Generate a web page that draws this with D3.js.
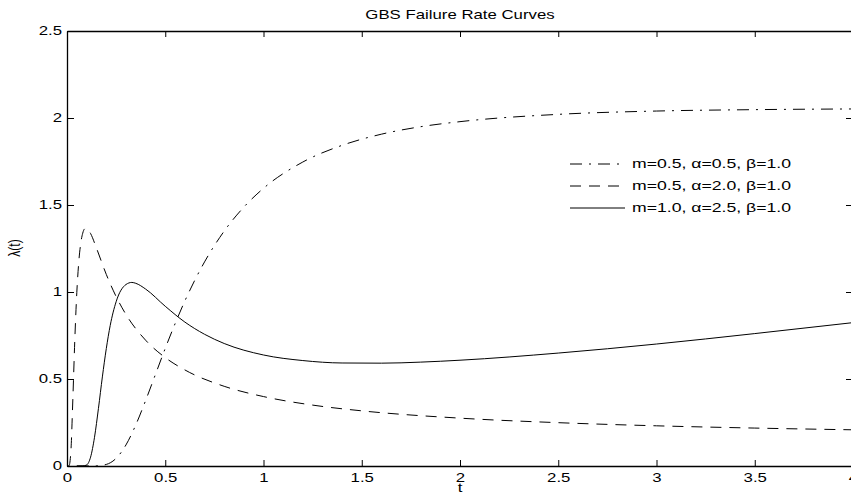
<!DOCTYPE html>
<html>
<head>
<meta charset="utf-8">
<script src="https://cdn.jsdelivr.net/npm/d3@7"></script>
<style>
    body { margin: 0; background: #fff; }
    text { font-family: "Liberation Sans", Arial, sans-serif; }
</style>
</head>
<body>
<div id="canvas"></div>
<script>
"use strict"

/* values */
let xTicks = [0, 0.5, 1, 1.5, 2, 2.5, 3, 3.5, 4];
let yTicks = [0, 0.5, 1, 1.5, 2, 2.5];

let legendLabels = [
    "m=0.5, \u03b1=0.5, \u03b2=1.0",
    "m=0.5, \u03b1=2.0, \u03b2=1.0",
    "m=1.0, \u03b1=2.5, \u03b2=1.0"
];

/* m=0.5, alpha=0.5 (dash-dot) */
let t1 = [0.05, 0.15, 0.2, 0.25, 0.3, 0.35, 0.4, 0.45, 0.5, 0.6, 0.7, 0.8, 0.9, 1.0,
    1.2, 1.4, 1.6, 1.8, 2.0, 2.5, 3.0, 3.5, 4.0];
let lambda1 = [0, 0.001, 0.009, 0.044, 0.121, 0.236, 0.376, 0.526, 0.676, 0.949, 1.173, 1.350, 1.488, 1.596,
    1.747, 1.843, 1.907, 1.950, 1.979, 2.021, 2.040, 2.048, 2.052];

/* m=0.5, alpha=2.0 (dashed) */
let t2 = [0.005, 0.01, 0.02, 0.03, 0.04, 0.05, 0.06, 0.07, 0.08, 0.09, 0.1, 0.12, 0.15, 0.2, 0.25, 0.3,
    0.4, 0.5, 0.6, 0.8, 1.0, 1.25, 1.5, 2.0, 2.5, 3.0, 3.5, 4.0];
let lambda2 = [0, 0.0005, 0.089, 0.393, 0.734, 0.998, 1.174, 1.280, 1.338, 1.363, 1.366, 1.336, 1.252, 1.101, 0.974, 0.871,
    0.723, 0.623, 0.552, 0.458, 0.399, 0.350, 0.317, 0.275, 0.249, 0.231, 0.218, 0.208];

/* m=1.0, alpha=2.5 (solid) */
let t3 = [0.05, 0.08, 0.1, 0.12, 0.14, 0.16, 0.18, 0.2, 0.22, 0.25, 0.3, 0.33, 0.35, 0.4, 0.5, 0.6, 0.7, 0.8,
    1.0, 1.2, 1.4, 1.6, 1.8, 2.0, 2.5, 3.0, 3.5, 4.0];
let lambda3 = [0, 0.0001, 0.006, 0.051, 0.165, 0.331, 0.512, 0.675, 0.808, 0.944, 1.043, 1.055, 1.050, 1.017, 0.918, 0.827, 0.757, 0.704,
    0.638, 0.606, 0.592, 0.591, 0.597, 0.608, 0.649, 0.701, 0.761, 0.824];

let dashes = ["12,7,2,7", "11,8", null];
let stretch = 1.4; // text in the picture is wider than it is tall

/* canvas */
let drawing = d3.select("#canvas")
    .append("svg")
    .attr("width", 851)
    .attr("height", 497);

let plotLeft = 67, plotRight = 853, plotTop = 31, plotBottom = 466;

let x = d3.scaleLinear().domain([0, 4]).range([plotLeft, plotRight]);
let y = d3.scaleLinear().domain([0, 2.5]).range([plotBottom, plotTop]);

/* axes, ticks pointing inwards like matlab */
let fmt = d => String(d);

let xAxis = drawing.append("g")
    .attr("transform", "translate(0," + plotBottom + ")")
    .call(d3.axisBottom(x).tickValues(xTicks).tickFormat(fmt).tickSizeInner(-6).tickSizeOuter(0).tickPadding(7));

let xAxisTop = drawing.append("g")
    .attr("transform", "translate(0," + plotTop + ")")
    .call(d3.axisTop(x).tickValues(xTicks).tickFormat("").tickSizeInner(-6).tickSizeOuter(0));

let yAxis = drawing.append("g")
    .attr("transform", "translate(" + plotLeft + ",0)")
    .call(d3.axisLeft(y).tickValues(yTicks).tickFormat(fmt).tickSizeInner(-7).tickSizeOuter(0).tickPadding(4));

let yAxisRight = drawing.append("g")
    .attr("transform", "translate(" + plotRight + ",0)")
    .call(d3.axisRight(y).tickValues(yTicks).tickFormat("").tickSizeInner(-7).tickSizeOuter(0));

drawing.selectAll(".domain").attr("stroke", "#000").attr("stroke-width", 1.3);
drawing.selectAll(".tick line").attr("stroke", "#000").attr("stroke-width", 1);
drawing.selectAll(".tick text")
    .attr("fill", "#000")
    .attr("font-size", 12)
    .attr("font-family", "Liberation Sans, Arial, sans-serif");

xAxis.selectAll(".tick text").attr("transform", "scale(" + stretch + ",1)");
yAxis.selectAll(".tick text")
    .attr("x", 0)
    .attr("transform", "translate(-5,0) scale(" + stretch + ",1)");

/* curves */
let line = d3.line()
    .x(d => x(d[0]))
    .y(d => y(d[1]))
    .curve(d3.curveMonotoneX);

let series = [
    d3.zip(t1, lambda1),
    d3.zip(t2, lambda2),
    d3.zip(t3, lambda3)
];

series.forEach(function (pts, i) {
    drawing.append("path")
        .attr("d", line(pts))
        .attr("fill", "none")
        .attr("stroke", "#000")
        .attr("stroke-width", 1)
        .attr("stroke-dasharray", dashes[i]);
});

/* legend (no box) */
legendLabels.forEach(function (label, i) {
    let ly = 164 + i * 22;
    drawing.append("line")
        .attr("x1", 570)
        .attr("x2", 625)
        .attr("y1", ly)
        .attr("y2", ly)
        .attr("stroke", "#000")
        .attr("stroke-width", 1)
        .attr("stroke-dasharray", dashes[i]);
    drawing.append("text")
        .attr("transform", "translate(632," + (ly + 4) + ") scale(" + stretch + ",1)")
        .attr("font-size", 12.6)
        .text(label);
});

/* title and labels */
let title = drawing.append("text")
    .attr("transform", "translate(460,19) scale(" + stretch + ",1)")
    .attr("text-anchor", "middle")
    .attr("font-size", 12)
    .text("GBS Failure Rate Curves");

let xLabel = drawing.append("text")
    .attr("transform", "translate(460,492) scale(" + stretch + ",1)")
    .attr("text-anchor", "middle")
    .attr("font-size", 12)
    .text("t");

let yLabel = drawing.append("text")
    .attr("transform", "translate(20,248) scale(" + stretch + ",1) rotate(-90)")
    .attr("text-anchor", "middle")
    .attr("font-size", 12)
    .text("\u03bb(t)");
</script>
</body>
</html>
